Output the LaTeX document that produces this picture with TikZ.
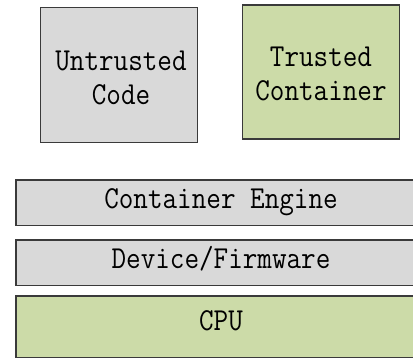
\documentclass[tikz,border=0pt]{standalone}
\definecolor{boxgray}{HTML}{D9D9D9}
\definecolor{boxgreen}{HTML}{CCDBA8}
\definecolor{edge}{HTML}{3A3A3A}
\newcommand{\sq}[1]{\scalebox{0.885}[1]{\begin{tabular}{@{}c@{}}#1\end{tabular}}}
\begin{document}
\begin{tikzpicture}[x=1pt,y=-1pt,
  blk/.style={draw=edge, line width=1.4pt, inner sep=0pt},
  graybox/.style={blk, fill=boxgray},
  greenbox/.style={blk, fill=boxgreen},
  layer/.style={inner sep=0pt, minimum width=450pt, anchor=north west},
  rim/.style={draw=edge, line width=1.4pt},
  lbl/.style={font=\fontsize{32}{34}\ttfamily, inner sep=0pt}]
\useasboundingbox (0,0) rectangle (413,358);
\node[graybox, minimum width=157pt, minimum height=135pt, anchor=north west] (untrusted) at (40,7) {};
\node[greenbox, minimum width=157pt, minimum height=134pt, anchor=north west] (trusted) at (242,4.5) {};
\node[layer, fill=boxgray, minimum height=45pt] (engine) at (16,180) {};
\node[layer, fill=boxgray, minimum height=45pt] (device) at (16,240) {};
\node[layer, fill=boxgreen, minimum height=61pt] (cpu) at (16,296) {};
\draw[rim] (engine.north east) -- (engine.north west) -- (engine.south west) -- (engine.south east);
\draw[rim] (device.north east) -- (device.north west) -- (device.south west) -- (device.south east);
\draw[rim] (cpu.north east) -- (cpu.north west) -- (cpu.south west) -- (cpu.south east);
\node[lbl] (untrustedtxt) at (121,81) {\sq{Untrusted\\Code}};
\node[lbl] (trustedtxt) at (321,77) {\sq{Trusted\\Container}};
\node[lbl] (enginetxt) at (221,202) {\sq{Container Engine}};
\node[lbl] (devicetxt) at (221,262) {\sq{Device/Firmware}};
\node[lbl] (cputxt) at (221,324) {\sq{CPU}};
\end{tikzpicture}
\end{document}
